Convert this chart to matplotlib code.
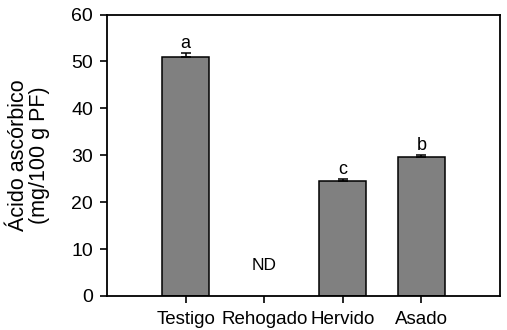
import matplotlib
matplotlib.use('Agg')
import matplotlib.pyplot as plt
import numpy as np

# data
categories = ["Testigo", "Rehogado", "Hervido", "Asado"]
values     = [51.0, 0.0, 24.5, 29.6]
errors     = [0.7, 0.0, 0.4, 0.4]
letters    = ["a", "ND", "c", "b"]
y_ticks    = [0, 10, 20, 30, 40, 50, 60]

plt.rcParams['font.family'] = ['Liberation Sans', 'DejaVu Sans']

fig = plt.figure(figsize=(5.07, 3.30), dpi=100)
ax = fig.add_axes([107 / 507, 34 / 330, 393 / 507, 281.5 / 330])

x = np.arange(len(categories))
for xi, v, e, lab in zip(x, values, errors, letters):
    if lab == "ND":
        ax.text(xi, 6.6, lab, ha='center', va='center', fontsize=12.5)
        continue
    ax.bar(xi, v, width=0.6, color='#808080', edgecolor='black', linewidth=1.1, zorder=2)
    ax.errorbar(xi, v, yerr=[[0], [e]], fmt='none', ecolor='black',
                elinewidth=1.1, capsize=3.5, capthick=1.1, zorder=3)
    ax.text(xi, v + e + 0.3, lab, ha='center', va='bottom', fontsize=13)

ax.set_xlim(-1, 4)
ax.set_ylim(0, 60)
ax.set_yticks(y_ticks)
ax.set_xticks(x)
ax.set_xticklabels(categories)
ax.tick_params(axis='both', direction='out', length=5, width=1.2)
ax.tick_params(axis='x', pad=6, labelsize=13.5)
ax.tick_params(axis='y', pad=5, labelsize=14)
for spine in ax.spines.values():
    spine.set_linewidth(1.3)

ax.set_ylabel("Ácido ascórbico\n(mg/100 g PF)", fontsize=15.5, linespacing=1.0)
ax.yaxis.set_label_coords(-0.145, 0.5)

fig.savefig("out.png", dpi=100)
